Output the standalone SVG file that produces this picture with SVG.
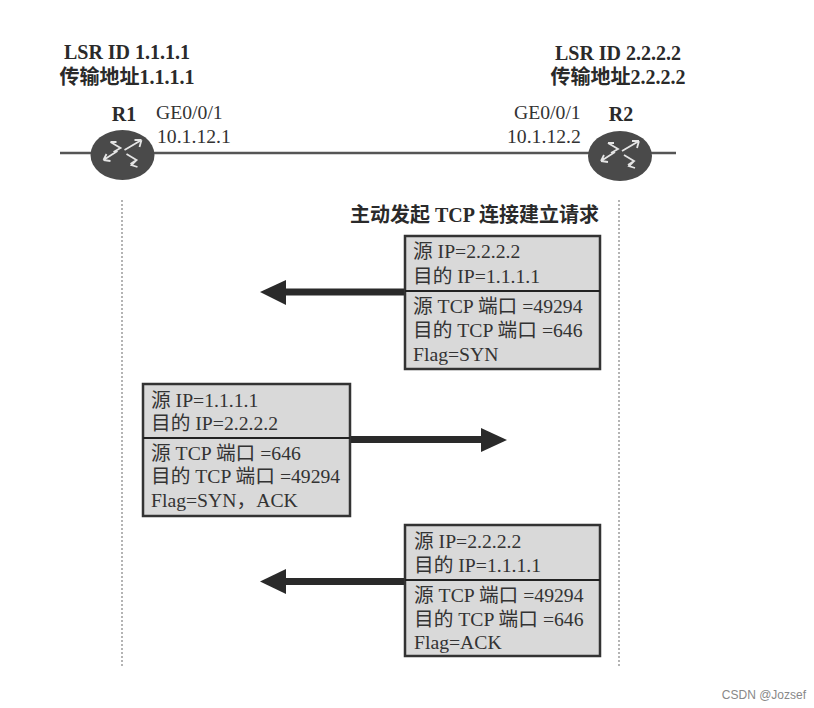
<svg xmlns="http://www.w3.org/2000/svg" width="814" height="708" viewBox="0 0 814 708">
<style>
text{font-family:"Liberation Serif","Noto Sans CJK SC",serif;fill:#333}
.b{font-weight:bold;font-size:20px;fill:#2a2a2a}
.t{font-size:19.7px}
.box{fill:#d9d9d9;stroke:#333;stroke-width:2.5}
.sep{stroke:#222;stroke-width:2}
.life{stroke:#b4b4b4;stroke-width:2;stroke-dasharray:2 2;fill:none}
.link{stroke:#555;stroke-width:2.5}
.shaft{stroke:#2a2a2a;stroke-width:7}
.head{fill:#2a2a2a}
.ic{stroke:#e4e4e4;stroke-width:1.8;fill:none}
</style>
<defs>
<g id="router">
<ellipse cx="0" cy="0" rx="32" ry="25" fill="#4a4a4a"/>
<path class="ic" d="M-19 5L-5 -4M-19 5L-12 6M-19 5L-16 -1M-12 -13L-2 -7L-9 -3M-12 -13L-6 -13M2 -5L19 -15M19 -15L12 -15M19 -15L17 -8M4 -1L14 5L8 9M14 5L9 10L15 12"/>
</g>
</defs>
<rect width="814" height="708" fill="#fff"/>
<g id="connectors">
<line class="link" x1="60" y1="153" x2="676" y2="153"/>
<line class="life" x1="122" y1="200" x2="122" y2="666"/>
<line class="life" x1="619" y1="200" x2="619" y2="666"/>
<line class="shaft" x1="280" y1="292" x2="405" y2="292"/>
<polygon class="head" points="260,292 286,280 286,305"/>
<line class="shaft" x1="350" y1="439.5" x2="485" y2="439.5"/>
<polygon class="head" points="507,440 481,428 481,452"/>
<line class="shaft" x1="280" y1="581.5" x2="405" y2="581.5"/>
<polygon class="head" points="260,581.5 286,569 286,594"/>
</g>
<g id="R1"><use href="#router" x="122.5" y="155"/><text class="b" x="124" y="121" text-anchor="middle">R1</text></g>
<g id="R2"><use href="#router" x="620" y="156"/><text class="b" x="621" y="121" text-anchor="middle">R2</text></g>
<g id="R1-label"><text class="b" x="127" y="59" text-anchor="middle">LSR ID 1.1.1.1</text><text class="b" x="127" y="84" text-anchor="middle">传输地址1.1.1.1</text></g>
<g id="R2-label"><text class="b" x="618" y="60" text-anchor="middle">LSR ID 2.2.2.2</text><text class="b" x="618" y="84" text-anchor="middle">传输地址2.2.2.2</text></g>
<g id="R1-if"><text class="t" x="156" y="119">GE0/0/1</text><text class="t" x="157" y="143">10.1.12.1</text></g>
<g id="R2-if"><text class="t" x="514" y="119">GE0/0/1</text><text class="t" x="507" y="143">10.1.12.2</text></g>
<g id="title"><text class="b" x="350" y="222">主动发起 TCP 连接建立请求</text></g>
<g id="msg1">
<rect class="box" x="405" y="236" width="195" height="133"/>
<line class="sep" x1="405" y1="291" x2="600" y2="291"/>
<text class="t" x="413" y="258">源 IP=2.2.2.2</text><text class="t" x="413" y="283">目的 IP=1.1.1.1</text><text class="t" x="413" y="313">源 TCP 端口 =49294</text><text class="t" x="413" y="337">目的 TCP 端口 =646</text><text class="t" x="413" y="361">Flag=SYN</text>
</g>
<g id="msg2">
<rect class="box" x="143" y="384" width="207" height="132"/>
<line class="sep" x1="143" y1="438" x2="350" y2="438"/>
<text class="t" x="151" y="407">源 IP=1.1.1.1</text><text class="t" x="151" y="430">目的 IP=2.2.2.2</text><text class="t" x="151" y="460">源 TCP 端口 =646</text><text class="t" x="151" y="483">目的 TCP 端口 =49294</text><text class="t" x="151" y="507">Flag=SYN，ACK</text>
</g>
<g id="msg3">
<rect class="box" x="405" y="525" width="195" height="131"/>
<line class="sep" x1="405" y1="580" x2="600" y2="580"/>
<text class="t" x="414" y="548">源 IP=2.2.2.2</text><text class="t" x="414" y="572">目的 IP=1.1.1.1</text><text class="t" x="414" y="602">源 TCP 端口 =49294</text><text class="t" x="414" y="626">目的 TCP 端口 =646</text><text class="t" x="414" y="649">Flag=ACK</text>
</g>
<text x="806" y="699" text-anchor="end" style="font-family:'Liberation Sans',sans-serif;font-size:12px;fill:#888">CSDN @Jozsef</text>
</svg>
